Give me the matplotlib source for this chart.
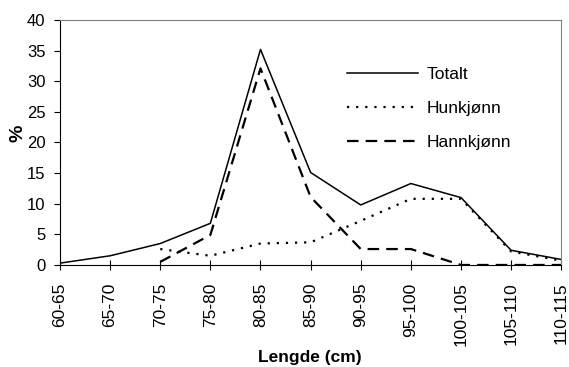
import matplotlib
matplotlib.use('Agg')
import matplotlib.pyplot as plt
import numpy as np

plt.rcParams['font.family'] = ['Liberation Sans', 'DejaVu Sans']

# lengdegrupper og andel (%) per gruppe
lengde = ['60-65', '65-70', '70-75', '75-80', '80-85', '85-90',
          '90-95', '95-100', '100-105', '105-110', '110-115']
totalt = [0.3, 1.5, 3.5, 6.8, 35.2, 15.1, 9.8, 13.3, 11.0, 2.4, 0.9]
hunkjonn = [np.nan, np.nan, 2.6, 1.5, 3.5, 3.7, 7.2, 10.8, 10.8, 2.2, 0.7]
hannkjonn = [np.nan, np.nan, 0.5, 4.9, 32.1, 11.1, 2.6, 2.6, 0.0, 0.0, 0.0]

x = np.arange(len(lengde))

fig = plt.figure(figsize=(5.69, 3.67), dpi=100)
ax = fig.add_axes([0.1054, 0.278, 0.881, 0.6675])

ax.plot(x, totalt, color='black', lw=1.1, label='Totalt')
ax.plot(x, hunkjonn, color='black', lw=1.6, linestyle=(0, (1, 3.1)), label='Hunkjønn')
ax.plot(x, hannkjonn, color='black', lw=1.6, linestyle=(0, (5.2, 3.2)), label='Hannkjønn')

ax.set_xlim(0, len(lengde) - 1)
ax.set_ylim(0, 40)
ax.set_yticks(range(0, 41, 5))
ax.set_xticks(x)
ax.set_xticklabels(lengde, rotation=90)
ax.tick_params(axis='y', direction='out', length=4.5, width=0.8, labelsize=12, pad=6)
ax.tick_params(axis='x', direction='inout', length=7, width=0.8, labelsize=12.5, pad=9)

for s in ['top', 'right']:
    ax.spines[s].set_color('#808080')
    ax.spines[s].set_linewidth(0.8)
for s in ['left', 'bottom']:
    ax.spines[s].set_color('black')
    ax.spines[s].set_linewidth(0.8)

fig.text(0.545, 0.027, 'Lengde (cm)', fontsize=12.5, fontweight='bold',
         ha='center', va='center')
fig.text(0.032, 0.638, '%', fontsize=14, fontweight='bold', rotation=90,
         ha='center', va='center')

leg = ax.legend(loc='upper left', bbox_to_anchor=(0.573, 0.808), frameon=False,
                fontsize=12.5, handlelength=4.1, handletextpad=0.5,
                labelspacing=1.08, borderpad=0, borderaxespad=0)

fig.savefig('out.png', dpi=100)
